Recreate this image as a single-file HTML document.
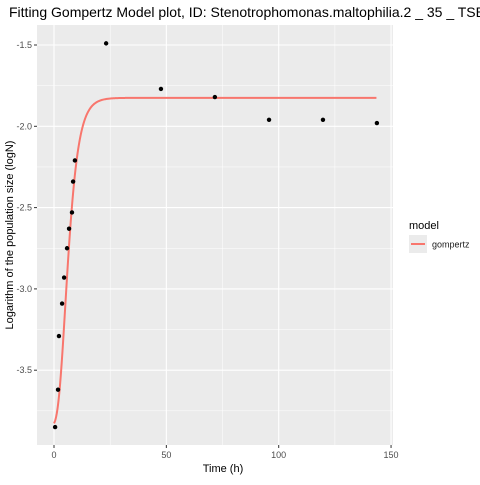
<!DOCTYPE html>
<html><head><meta charset="utf-8"><style>
body{margin:0;background:#fff;width:480px;height:480px;overflow:hidden}
svg{font-family:"Liberation Sans",sans-serif}
</style></head><body>
<svg id="chart" width="480" height="480">
<text x="9" y="17" font-size="14" fill="#000">Fitting Gompertz Model plot, ID: Stenotrophomonas.maltophilia.2 _ 35 _ TSB</text>
<rect x="37" y="25" width="356" height="420" fill="#ebebeb"/>
<g id="grid"></g><g id="axes"></g><g id="marks"></g>
<text x="223" y="472" font-size="11" text-anchor="middle">Time (h)</text>
<text transform="translate(13,235) rotate(-90)" font-size="11" text-anchor="middle">Logarithm of the population size (logN)</text>
<g>
<text x="409" y="229" font-size="11">model</text>
<rect x="409" y="235" width="18" height="18" fill="#ebebeb"/>
<line x1="411" x2="425" y1="244" y2="244" stroke="#f8766d" stroke-width="2"/>
<text x="432" y="247.5" font-size="9" fill="#1a1a1a">gompertz</text>
</g>
</svg>
<script>
const times=[0.5,1.8,2.2,3.6,4.5,5.8,6.7,8,8.5,9.3,23.2,47.6,71.6,95.7,119.7,143.7];
const logN=[-3.85,-3.62,-3.29,-3.09,-2.93,-2.75,-2.63,-2.53,-2.34,-2.21,-1.49,-1.77,-1.82,-1.96,-1.96,-1.98];
const xTicks=[0,50,100,150];
const yTicks=[-3.5,-3.0,-2.5,-2.0,-1.5];
const gompertzParams=[-3.845,2.02,0.23,1.8]; // y0, A, mumax, lag
const NS="http://www.w3.org/2000/svg";
const x=v=>54+(v)*2.247;
const y=v=>45+(-1.5-v)*162.6;
function mk(t,a,p){const e=document.createElementNS(NS,t);for(const k in a)e.setAttribute(k,a[k]);p.appendChild(e);return e;}
const grid=document.getElementById('grid'),axes=document.getElementById('axes'),marks=document.getElementById('marks');
for(let i=0;i<xTicks.length;i++){
 const v=xTicks[i];
 const g=mk('line',{x1:x(v),x2:x(v),y1:25,y2:445,stroke:'#fff','stroke-width':1.1},grid);
 
 
 if(i<xTicks.length-1){const m=mk('line',{x1:x(v+25),x2:x(v+25),y1:25,y2:445,stroke:'#fff','stroke-width':0.5},grid);
 
 }
 const tk=mk('line',{x1:x(v),x2:x(v),y1:445,y2:448,stroke:'#333'},axes);
 
 
 const t=mk('text',{x:x(v),y:458,'font-size':9,'text-anchor':'middle',fill:'#4d4d4d'},axes);t.textContent=v;
 
 
}
for(let i=0;i<yTicks.length;i++){
 const v=yTicks[i];
 const g=mk('line',{x1:37,x2:393,y1:y(v),y2:y(v),stroke:'#fff','stroke-width':1.1},grid);
 
 
 for(const mv of [v-0.25, v+0.25]){ if(i>0&&mv<v)continue;
 const m=mk('line',{x1:37,x2:393,y1:y(mv),y2:y(mv),stroke:'#fff','stroke-width':0.5},grid);
 
 }
 const tk=mk('line',{x1:34,x2:37,y1:y(v),y2:y(v),stroke:'#333'},axes);
 
 
 const t=mk('text',{x:32,y:y(v)+3,'font-size':9,'text-anchor':'end',fill:'#4d4d4d'},axes);t.textContent=v.toFixed(1);
 
 
}
const [y0,A,mu,lag]=gompertzParams;
let d='';
for(let t=0;t<=143.7;t+=0.25){const v=y0+A*Math.exp(-Math.exp(mu*Math.E/A*(lag-t)+1));d+=(d?'L':'M')+x(t).toFixed(2)+','+y(v).toFixed(2);}
const path=mk('path',{d:d,fill:'none',stroke:'#f8766d','stroke-width':2},marks);


for(let i=0;i<times.length;i++){
 const c=mk('circle',{cx:x(times[i]),cy:y(logN[i]),r:2.2,fill:'#000'},marks);
 
 
}
</script>
</body></html>
